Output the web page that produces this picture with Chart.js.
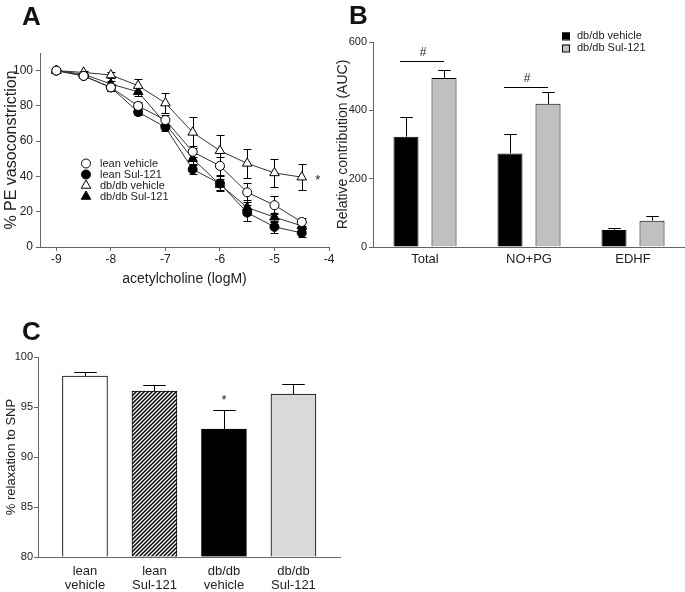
<!DOCTYPE html>
<html>
<head>
<meta charset="utf-8">
<script src="https://cdn.jsdelivr.net/npm/chart.js@4.4.0/dist/chart.umd.min.js"></script>
<style>
    body { margin: 0; background: #fff; }
    #page { position: relative; width: 685px; height: 592px; overflow: hidden; font-family: "Liberation Sans", Arial, sans-serif; }
    canvas { position: absolute; }
    .tag { position: absolute; font-weight: bold; font-size: 26px; line-height: 1; color: #111; }
</style>
</head>
<body>
<div id="page">
    <canvas id="chartA" width="340" height="300" style="left:0;top:0"></canvas>
    <canvas id="chartB" width="365" height="300" style="left:320px;top:0"></canvas>
    <canvas id="chartC" width="345" height="292" style="left:0;top:300px"></canvas>
    <div class="tag" style="left:22px;top:3px">A</div>
    <div class="tag" style="left:349px;top:2px">B</div>
    <div class="tag" style="left:22px;top:318px">C</div>
</div>
<script>
// panel A: dose response
const doses = [-9, -8.5, -8, -7.5, -7, -6.5, -6, -5.5, -5, -4.5]
const leanVehicle = [100, 97, 90.5, 80, 72, 54, 46, 31, 23.7, 14.2]
const leanVehicleErr = [0, 1, 2, 2, 3, 3, 5, 5.5, 5, 2.5]
const leanSul = [100, 97, 90.5, 76.5, 68, 44, 36, 19.5, 11.4, 8]
const leanSulErr = [0, 1, 2, 1.5, 2, 2.5, 4, 4.5, 3.5, 2.5]
const dbVehicle = [100, 99, 97.5, 91.5, 81.6, 65, 54.6, 47.4, 42, 39.6]
const dbVehicleErr = [0, 1, 1.5, 4, 5.5, 8.6, 9, 8, 8, 7.5]
const dbSul = [100, 98, 92.4, 88, 70, 50, 35.5, 22.4, 16.9, 12]
const dbSulErr = [0, 1, 2, 2.5, 3, 3, 3, 4, 2.5, 2]
const xTicksA = [-9, -8, -7, -6, -5, -4]
const yTicksA = [0, 20, 40, 60, 80, 100]

// panel B: AUC contributions
const pathways = ['Total', 'NO+PG', 'EDHF']
const aucVehicle = [323, 274, 50]
const aucVehicleErr = [57, 56, 6]
const aucSul = [495, 419, 77]
const aucSulErr = [22, 34, 14]
const yTicksB = [0, 200, 400, 600]

// panel C: SNP relaxation
const groupsC = [['lean', 'vehicle'], ['lean', 'Sul-121'], ['db/db', 'vehicle'], ['db/db', 'Sul-121']]
const relaxation = [98.1, 96.6, 92.8, 96.3]
const relaxationErr = [0.4, 0.6, 1.9, 1.0]
const yTicksC = [80, 85, 90, 95, 100]

const textColor = '#222'
const axisColor = '#666'
Chart.defaults.font.family = '"Liberation Sans", Arial, sans-serif'
Chart.defaults.color = textColor
Chart.defaults.animation = false
Chart.defaults.responsive = false
Chart.defaults.devicePixelRatio = 1
Chart.defaults.plugins.legend.display = false
Chart.defaults.plugins.tooltip.enabled = false

const fixTicks = (list) => (scale) => { scale.ticks = list.map(v => ({ value: v })) }

function drawMarker(ctx, style, fill, x, y, r) {
    ctx.beginPath()
    if (style === 'circle') {
        ctx.arc(x, y, r, 0, Math.PI * 2)
    } else {
        ctx.moveTo(x, y - r)
        ctx.lineTo(x + r * 0.866, y + r * 0.5)
        ctx.lineTo(x - r * 0.866, y + r * 0.5)
        ctx.closePath()
    }
    ctx.fillStyle = fill
    ctx.fill()
    ctx.lineWidth = 1
    ctx.strokeStyle = '#000'
    ctx.stroke()
}

const errorBars = {
    id: 'errorBars',
    beforeDatasetsDraw(chart, args, opts) {
        const ctx = chart.ctx
        const yScale = chart.scales.y
        ctx.save()
        ctx.strokeStyle = '#000'
        ctx.lineWidth = 1
        chart.data.datasets.forEach((ds, di) => {
            if (!ds.errors) return
            chart.getDatasetMeta(di).data.forEach((el, i) => {
                const err = ds.errors[i]
                if (!err) return
                const point = ds.data[i]
                const value = typeof point === 'object' ? point.y : point
                const x = Math.round(el.x) + 0.5
                const top = Math.round(yScale.getPixelForValue(value + err)) + 0.5
                const bottom = opts.upOnly ? el.y : Math.round(yScale.getPixelForValue(value - err)) + 0.5
                const half = opts.cap ? opts.cap / 2 : el.width / 4
                ctx.beginPath()
                ctx.moveTo(x, bottom)
                ctx.lineTo(x, top)
                ctx.moveTo(x - half, top)
                ctx.lineTo(x + half, top)
                if (!opts.upOnly) {
                    ctx.moveTo(x - half, bottom)
                    ctx.lineTo(x + half, bottom)
                }
                ctx.stroke()
            })
        })
        ctx.restore()
    }
}

function lineSet(label, values, errors, style, filled) {
    return {
        label: label,
        data: doses.map((x, i) => ({ x: x, y: values[i] })),
        errors: errors,
        borderColor: '#333',
        borderWidth: 1,
        pointStyle: style,
        pointRadius: style === 'triangle' ? 5.5 : 4.5,
        pointBackgroundColor: filled ? '#000' : '#fff',
        pointBorderColor: '#000',
        pointBorderWidth: 1,
        tension: 0
    }
}

const legendA = {
    id: 'legendA',
    afterDraw(chart) {
        const ctx = chart.ctx
        ctx.save()
        chart.data.datasets.forEach((ds, i) => {
            const y = 163.5 + i * 11
            drawMarker(ctx, ds.pointStyle, ds.pointBackgroundColor, 86, y, ds.pointStyle === 'circle' ? 4.5 : 5.5)
            ctx.fillStyle = textColor
            ctx.font = '11px "Liberation Sans", Arial, sans-serif'
            ctx.textBaseline = 'middle'
            ctx.fillText(ds.label, 100, y)
        })
        // significance mark next to db/db vehicle
        const last = chart.getDatasetMeta(2).data[doses.length - 1]
        ctx.font = '13px "Liberation Sans", Arial, sans-serif'
        ctx.textAlign = 'center'
        ctx.fillText('*', last.x + 16, last.y + 3)
        ctx.restore()
    }
}

new Chart(document.getElementById('chartA'), {
    type: 'line',
    data: {
        datasets: [
            lineSet('lean vehicle', leanVehicle, leanVehicleErr, 'circle', false),
            lineSet('lean Sul-121', leanSul, leanSulErr, 'circle', true),
            lineSet('db/db vehicle', dbVehicle, dbVehicleErr, 'triangle', false),
            lineSet('db/db Sul-121', dbSul, dbSulErr, 'triangle', true)
        ]
    },
    options: {
        layout: { padding: { top: 53, right: 11, bottom: 8, left: 0 } },
        plugins: { errorBars: { cap: 8 } },
        scales: {
            x: {
                type: 'linear', min: -9.3, max: -4, bounds: 'data',
                afterBuildTicks: fixTicks(xTicksA),
                afterFit: (s) => { s.height = 45 },
                grid: { drawOnChartArea: false, tickLength: 4, color: axisColor },
                border: { color: axisColor },
                ticks: { font: { size: 12 }, padding: 1, maxRotation: 0 },
                title: { display: true, text: 'acetylcholine (logM)', font: { size: 14 }, padding: 4 }
            },
            y: {
                min: 0, max: 110, bounds: 'data',
                afterBuildTicks: fixTicks(yTicksA),
                afterFit: (s) => { s.width = 40 },
                grid: { drawOnChartArea: false, tickLength: 4, color: axisColor },
                border: { color: axisColor },
                ticks: { font: { size: 12 }, padding: 3 },
                title: { display: true, text: '% PE vasoconstriction', font: { size: 16 }, padding: 2 }
            }
        }
    },
    plugins: [errorBars, legendA]
})

const annotB = {
    id: 'annotB',
    afterDraw(chart) {
        const ctx = chart.ctx
        const y = chart.scales.y
        const left = chart.getDatasetMeta(0).data
        const right = chart.getDatasetMeta(1).data
        ctx.save()
        ctx.strokeStyle = '#000'
        ctx.lineWidth = 1
        ctx.fillStyle = textColor
        ctx.font = '12px "Liberation Sans", Arial, sans-serif'
        ctx.textAlign = 'center'
        ctx.textBaseline = 'middle'
        const levels = [[0, 545], [1, 468]]
        levels.forEach(([i, v]) => {
            const py = Math.round(y.getPixelForValue(v)) + 0.5
            const x0 = left[i].x - 6
            const x1 = right[i].x
            ctx.beginPath()
            ctx.moveTo(x0, py)
            ctx.lineTo(x1, py)
            ctx.stroke()
            ctx.fillText('#', (x0 + x1) / 2 + 1, py - 9)
        })
        // legend
        ctx.font = '11px "Liberation Sans", Arial, sans-serif'
        ctx.textAlign = 'left'
        chart.data.datasets.forEach((ds, i) => {
            const cy = 36 + i * 12
            ctx.fillStyle = ds.backgroundColor
            ctx.fillRect(242, cy - 3.5, 8, 7)
            ctx.strokeRect(242.5, cy - 3, 7, 7)
            ctx.fillStyle = textColor
            ctx.fillText(ds.label, 257, cy)
        })
        ctx.restore()
    }
}

new Chart(document.getElementById('chartB'), {
    type: 'bar',
    data: {
        labels: pathways,
        datasets: [
            { label: 'db/db vehicle', data: aucVehicle, errors: aucVehicleErr, backgroundColor: '#000', borderColor: '#000', borderWidth: 1 },
            { label: 'db/db Sul-121', data: aucSul, errors: aucSulErr, backgroundColor: '#c0c0c0', borderColor: '#000', borderWidth: 1 }
        ]
    },
    options: {
        categoryPercentage: 0.731,
        barPercentage: 0.658,
        layout: { padding: { top: 42, right: 0, bottom: 0, left: 11 } },
        plugins: { errorBars: { upOnly: true } },
        scales: {
            x: {
                afterFit: (s) => { s.height = 53 },
                grid: { display: false, drawTicks: false },
                border: { color: axisColor },
                ticks: { font: { size: 13 }, padding: 5 }
            },
            y: {
                min: 0, max: 600, bounds: 'data',
                afterBuildTicks: fixTicks(yTicksB),
                afterFit: (s) => { s.width = 42 },
                grid: { drawOnChartArea: false, tickLength: 4, color: axisColor },
                border: { color: axisColor },
                ticks: { font: { size: 11 }, padding: 2 },
                title: { display: true, text: 'Relative contribution (AUC)', font: { size: 14 }, padding: 4 }
            }
        }
    },
    plugins: [errorBars, annotB]
})

function makeHatch() {
    const c = document.createElement('canvas')
    c.width = 4
    c.height = 4
    const g = c.getContext('2d')
    g.fillStyle = '#fff'
    g.fillRect(0, 0, 4, 4)
    g.strokeStyle = '#000'
    g.lineWidth = 1.5
    g.beginPath()
    g.moveTo(0, 4); g.lineTo(4, 0)
    g.moveTo(-1, 1); g.lineTo(1, -1)
    g.moveTo(3, 5); g.lineTo(5, 3)
    g.stroke()
    return g.createPattern(c, 'repeat')
}

const starC = {
    id: 'starC',
    afterDraw(chart) {
        const ctx = chart.ctx
        const bar = chart.getDatasetMeta(0).data[2]
        const top = chart.scales.y.getPixelForValue(relaxation[2] + relaxationErr[2])
        ctx.save()
        ctx.fillStyle = textColor
        ctx.font = '13px "Liberation Sans", Arial, sans-serif'
        ctx.textAlign = 'center'
        ctx.textBaseline = 'middle'
        ctx.fillText('*', bar.x, top - 10)
        ctx.restore()
    }
}

new Chart(document.getElementById('chartC'), {
    type: 'bar',
    data: {
        datasets: [{
            data: relaxation.map((v, i) => ({ x: i, y: v })),
            errors: relaxationErr,
            backgroundColor: ['#fff', makeHatch(), '#000', '#d9d9d9'],
            borderColor: '#000',
            borderWidth: 1,
            barThickness: 45,
            base: 80
        }]
    },
    options: {
        layout: { padding: { top: 57, right: 5, bottom: 0, left: 0 } },
        plugins: { errorBars: { upOnly: true } },
        scales: {
            x: {
                type: 'linear', min: -0.676, max: 3.67, bounds: 'data', offset: false,
                afterBuildTicks: fixTicks([0, 1, 2, 3]),
                afterFit: (s) => { s.height = 35 },
                grid: { display: false, drawTicks: false },
                border: { color: axisColor },
                ticks: { callback: (v) => groupsC[v], font: { size: 13, lineHeight: 1.1 }, padding: 7, maxRotation: 0, autoSkip: false }
            },
            y: {
                min: 80, max: 100, bounds: 'data',
                afterBuildTicks: fixTicks(yTicksC),
                afterFit: (s) => { s.width = 38 },
                grid: { drawOnChartArea: false, tickLength: 4, color: axisColor },
                border: { color: axisColor },
                ticks: { font: { size: 11 }, padding: 1 },
                title: { display: true, text: '% relaxation to SNP', font: { size: 13 }, padding: 4 }
            }
        }
    },
    plugins: [errorBars, starC]
})
</script>
</body>
</html>
